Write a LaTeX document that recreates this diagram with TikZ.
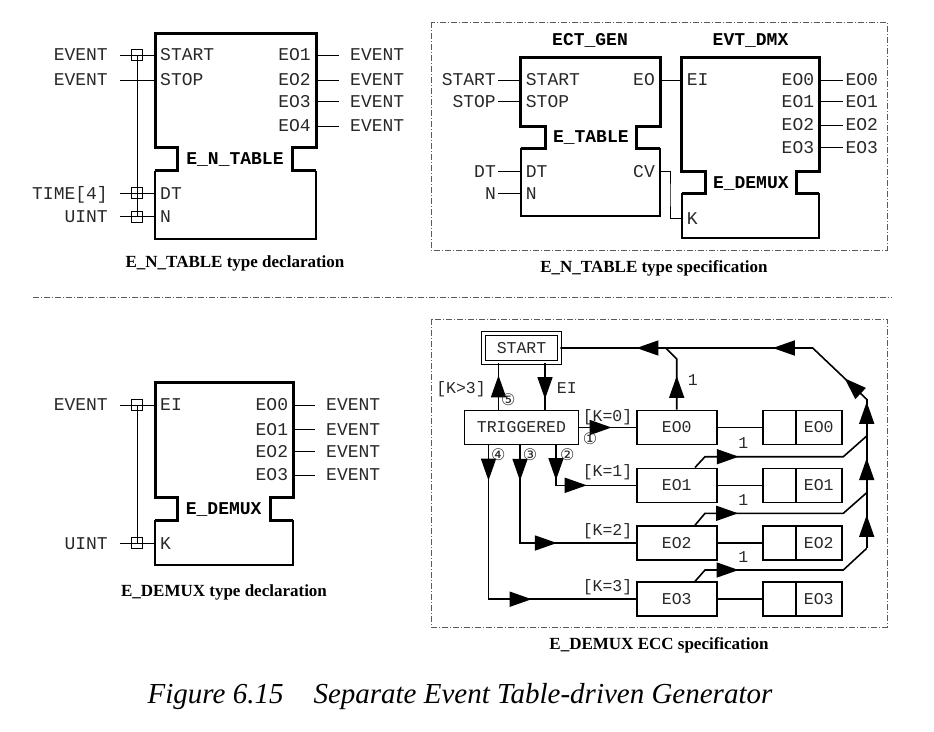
\documentclass[tikz,border=0pt]{standalone}
\usepackage{fontspec}
\setmainfont{Liberation Serif}
\newfontfamily\monofont{Liberation Mono}
\newfontfamily\circfont{DejaVu Sans}
\usetikzlibrary{arrows.meta, positioning, decorations.markings, calc}

\definecolor{InkGray}{RGB}{40, 40, 40}
\definecolor{FrameGray}{RGB}{90, 90, 90}

% function block outline: xl, xr, ytop, notch top, notch bottom, ybot, notch xl, notch xr
\newcommand{\fblock}[8]{%
  \draw[line width=2pt, line join=miter] (#1,#5) -- (#1,#6) -- (#2,#6) -- (#2,#5);
  \draw[line width=3pt, line join=miter] (#1,#5) -- (#7,#5) -- (#7,#4) -- (#1,#4) -- (#1,#3)
    -- (#2,#3) -- (#2,#4) -- (#8,#4) -- (#8,#5) -- (#2,#5);
}

\tikzset{
  io/.style={font=\monofont\fontsize{18}{20}\selectfont, text=InkGray, inner ysep=0pt, text height=11.5pt, text depth=0pt},
  pinL/.style={io, anchor=west, inner xsep=5pt},
  pinR/.style={io, anchor=east, inner xsep=5pt},
  typL/.style={io, anchor=east, inner xsep=12pt},
  typR/.style={io, anchor=west, inner xsep=11pt},
  varL/.style={io, anchor=east, inner xsep=2pt},
  varR/.style={io, anchor=west, inner xsep=2pt},
  fbname/.style={io, font=\monofont\bfseries\fontsize{18}{20}\selectfont, text=black},
  assoc/.style={draw, line width=0.8pt, minimum size=11pt, inner sep=0pt},
  pin/.style={line width=0.8pt},
  capt/.style={font=\bfseries\fontsize{17}{19}\selectfont, inner sep=0pt},
  frame/.style={FrameGray, line width=0.8pt, dash pattern=on 6pt off 2pt on 1pt off 2pt},
  ec/.style={font=\monofont\fontsize{16.5}{18}\selectfont, text=InkGray, inner ysep=0pt, text height=10.5pt, text depth=0pt},
  state/.style={ec, draw=black, line width=1.6pt, minimum height=34pt, inner xsep=0pt},
  initst/.style={ec, draw=black, double, double distance=2.5pt, line width=1.6pt,
    minimum width=76pt, minimum height=29pt, inner xsep=0pt},
  flow/.style={line width=1.6pt},
  onarr/.style={postaction={decorate, decoration={markings,
    mark=at position #1 with {\arrow{Triangle[length=22pt,width=15pt]}}}}},
  circ/.style={font=\circfont\fontsize{16}{17}\selectfont, text=InkGray, inner sep=0pt},
}

\begin{document}
\begin{tikzpicture}[x=1pt, y=-1pt]
  \useasboundingbox (0,0) rectangle (934,731);

  % ---- E_N_TABLE type declaration
  \fblock{155}{316}{33.3}{147.7}{170.7}{239.3}{177}{292.7}
  \node[pinL] (ntStart) at (155,55) {START};
  \node[pinL] (ntStop) at (155,80) {STOP};
  \node[pinL] (ntDT) at (155,193.3) {DT};
  \node[pinL] (ntN) at (155,216.7) {N};
  \node[pinR] (ntEO1) at (316,55) {EO1};
  \node[pinR] (ntEO2) at (316,80) {EO2};
  \node[pinR] (ntEO3) at (316,101.7) {EO3};
  \node[pinR] (ntEO4) at (316,126) {EO4};
  \node[fbname] (ntName) at (235,159) {E\_N\_TABLE};
  \node[typL] (ntEvA) at (120,55) {EVENT};
  \node[typL] (ntEvB) at (120,80) {EVENT};
  \node[typL] (ntTime) at (120,193.3) {TIME[4]};
  \node[typL] (ntUint) at (120,216.7) {UINT};
  \node[typR] (ntOut1) at (339,55) {EVENT};
  \node[typR] (ntOut2) at (339,80) {EVENT};
  \node[typR] (ntOut3) at (339,101.7) {EVENT};
  \node[typR] (ntOut4) at (339,126) {EVENT};
  \draw[pin] (ntEvA.east) -- (ntStart.west);
  \draw[pin] (ntEvB.east) -- (ntStop.west);
  \draw[pin] (ntTime.east) -- (ntDT.west);
  \draw[pin] (ntUint.east) -- (ntN.west);
  \draw[pin] (ntEO1.east) -- (ntOut1.west);
  \draw[pin] (ntEO2.east) -- (ntOut2.west);
  \draw[pin] (ntEO3.east) -- (ntOut3.west);
  \draw[pin] (ntEO4.east) -- (ntOut4.west);
  \node[assoc] (ntSqA) at (137,55) {};
  \node[assoc] (ntSqT) at (137,193.3) {};
  \node[assoc] (ntSqN) at (137,216.7) {};
  \draw[pin] (ntSqA.center) -- (ntSqN.center);
  \node[capt] (ntCap) at (235,263) {E\_N\_TABLE type declaration};

  % ---- E_N_TABLE type specification
  \draw[frame] (431,22) rectangle (887,250);
  \fblock{520.7}{660}{57.3}{126}{148.3}{216}{545}{636.7}
  \node[fbname] (spGen) at (590,40) {ECT\_GEN};
  \node[pinL] (spStart) at (520.7,80) {START};
  \node[pinL] (spStop) at (520.7,101.7) {STOP};
  \node[pinL] (spDT) at (520.7,171.7) {DT};
  \node[pinL] (spN) at (520.7,193.3) {N};
  \node[pinR] (spEO) at (660,80) {EO};
  \node[pinR] (spCV) at (660,171.7) {CV};
  \node[fbname] (spTable) at (590.8,137.2) {E\_TABLE};
  \node[varL] (spInStart) at (498,80) {START};
  \node[varL] (spInStop) at (498,101.7) {STOP};
  \node[varL] (spInDT) at (498,171.7) {DT};
  \node[varL] (spInN) at (498,193.3) {N};
  \draw[pin] (spInStart.east) -- (spStart.west);
  \draw[pin] (spInStop.east) -- (spStop.west);
  \draw[pin] (spInDT.east) -- (spDT.west);
  \draw[pin] (spInN.east) -- (spN.west);

  \fblock{681.7}{819.3}{57.3}{171.7}{193.3}{238.3}{705}{796.7}
  \node[fbname] (spDmx) at (750.5,40) {EVT\_DMX};
  \node[pinL] (spEI) at (681.7,80) {EI};
  \node[pinL] (spK) at (681.7,218.3) {K};
  \node[pinR] (spEO0) at (819.3,80) {EO0};
  \node[pinR] (spEO1) at (819.3,101.7) {EO1};
  \node[pinR] (spEO2) at (819.3,125) {EO2};
  \node[pinR] (spEO3) at (819.3,147.7) {EO3};
  \node[fbname] (spDemux) at (750.8,182.5) {E\_DEMUX};
  \node[varR] (spOut0) at (843.3,80) {EO0};
  \node[varR] (spOut1) at (843.3,101.7) {EO1};
  \node[varR] (spOut2) at (843.3,125) {EO2};
  \node[varR] (spOut3) at (843.3,147.7) {EO3};
  \draw[pin] (spEO0.east) -- (spOut0.west);
  \draw[pin] (spEO1.east) -- (spOut1.west);
  \draw[pin] (spEO2.east) -- (spOut2.west);
  \draw[pin] (spEO3.east) -- (spOut3.west);
  \draw[pin] (spEO.east) -- (spEI.west);
  \coordinate (spBend) at (670,195);
  \draw[pin] (spCV.east) -| (spBend) |- (spK.west);
  \node[capt] (spCap) at (654,268) {E\_N\_TABLE type specification};

  \draw[frame] (33,297) -- (892,297);

  % ---- E_DEMUX type declaration
  \fblock{155}{293.3}{382.7}{497.7}{520}{565}{177.3}{270}
  \node[pinL] (dmEI) at (155,405) {EI};
  \node[pinL] (dmK) at (155,543.3) {K};
  \node[pinR] (dmEO0) at (293.3,405) {EO0};
  \node[pinR] (dmEO1) at (293.3,429.3) {EO1};
  \node[pinR] (dmEO2) at (293.3,451.7) {EO2};
  \node[pinR] (dmEO3) at (293.3,475) {EO3};
  \node[fbname] (dmName) at (223.7,509) {E\_DEMUX};
  \node[typL] (dmEv) at (120,405) {EVENT};
  \node[typL] (dmUint) at (120,543.3) {UINT};
  \node[typR] (dmOut0) at (315,405) {EVENT};
  \node[typR] (dmOut1) at (315,429.3) {EVENT};
  \node[typR] (dmOut2) at (315,451.7) {EVENT};
  \node[typR] (dmOut3) at (315,475) {EVENT};
  \draw[pin] (dmEv.east) -- (dmEI.west);
  \draw[pin] (dmUint.east) -- (dmK.west);
  \draw[pin] (dmEO0.east) -- (dmOut0.west);
  \draw[pin] (dmEO1.east) -- (dmOut1.west);
  \draw[pin] (dmEO2.east) -- (dmOut2.west);
  \draw[pin] (dmEO3.east) -- (dmOut3.west);
  \node[assoc] (dmSqA) at (137,405) {};
  \node[assoc] (dmSqK) at (137,543.3) {};
  \draw[pin] (dmSqA.center) -- (dmSqK.center);
  \node[capt] (dmCap) at (224,592.7) {E\_DEMUX type declaration};

  % ---- E_DEMUX ECC specification
  \draw[frame] (431,319) rectangle (887,627);
  \node[initst] (ecStart) at (521.5,348) {START};
  \node[state, minimum width=114pt] (ecTrig) at (521.5,427.5) {TRIGGERED};
  \foreach \k/\y in {0/427.5, 1/485.3, 2/543, 3/599.2} {
    \node[state, minimum width=80pt] (ecEO\k) at (676.7,\y) {EO\k};
    \node[state, minimum width=33pt] (ecQ\k) at (779.2,\y) {};
    \node[state, minimum width=46pt] (ecA\k) at (818.7,\y) {EO\k};
    \draw[flow] (ecEO\k.east) -- (ecQ\k.west);
  }
  \draw[flow, onarr=0.74] ([xshift=-23pt]ecTrig.north) -- ([xshift=-23pt]ecStart.south);
  \draw[flow, onarr=0.77] ([xshift=23.5pt]ecStart.south) -- ([xshift=23.5pt]ecTrig.north);
  \draw[flow, onarr=0.57] (ecTrig.east) -- (ecEO0.west);
  \draw[flow, onarr=0.29, onarr=0.59] ([xshift=34.5pt]ecTrig.south) |- (ecEO1.west);
  \draw[flow, onarr=0.166, onarr=0.63] ([xshift=-1.5pt]ecTrig.south) |- (ecEO2.west);
  \draw[flow, onarr=0.117, onarr=0.654] ([xshift=-33pt]ecTrig.south) |- (ecEO3.west);

  \coordinate (ecJt) at (866.7,399.3);
  \coordinate (ecTr) at (812.7,348);
  \coordinate (ecK0) at (676.7,359);
  \coordinate (ecM0) at (665.7,348);
  \coordinate (ecJ1) at (866.7,436);
  \coordinate (ecJ2) at (866.7,492.7);
  \coordinate (ecJ3) at (866.7,548.3);
  \draw[flow, onarr=0.093, onarr=0.35, onarr=0.767] (ecJt) -- (ecTr) -- (ecStart.east);
  \draw[flow, onarr=0.51] (ecEO0.north) -- (ecK0) -- (ecM0);
  \draw[flow, onarr=0.6] (ecJ3) -- (ecJ2);
  \draw[flow, onarr=0.61] (ecJ2) -- (ecJ1);
  \draw[flow, onarr=0.93] (ecJ1) -- (ecJt);
  \foreach \k/\y in {1/456.7, 2/513.3, 3/570} {
    \coordinate (ecB\k) at (705,\y);
    \coordinate (ecC\k) at (843.3,\y);
    \draw[flow, onarr=0.263] ([xshift=18.3pt]ecEO\k.north) -- (ecB\k) -- (ecC\k) -- (ecJ\k);
  }
  \node[ec] (ecOne0) at (692.7,380) {1};
  \node[ec] (ecOne1) at (743.3,443.3) {1};
  \node[ec] (ecOne2) at (743.3,500) {1};
  \node[ec] (ecOne3) at (743.3,557) {1};
  \node[ec, anchor=east, inner xsep=0pt] (ecGk3) at (486,388.3) {[K>3]};
  \node[ec, anchor=west, inner xsep=0pt] (ecGei) at (556.7,388.3) {EI};
  \node[ec] (ecGk0) at (607.5,416.7) {[K=0]};
  \node[ec] (ecGk1) at (607.5,471.7) {[K=1]};
  \node[ec] (ecGk2) at (607.5,530) {[K=2]};
  \node[ec] (ecGk3b) at (607.5,586) {[K=3]};
  \node[circ] (ecN5) at (508.3,400) {⑤};
  \node[circ] (ecN1) at (590,438.3) {①};
  \node[circ] (ecN4) at (498.3,455) {④};
  \node[circ] (ecN3) at (530,455) {③};
  \node[circ] (ecN2) at (567.3,455) {②};
  \node[capt] (ecCap) at (659,645) {E\_DEMUX ECC specification};

  % ---- figure caption
  \node[font=\itshape\fontsize{29}{32}\selectfont, inner sep=0pt] (figCap) at (460,697)
    {Figure 6.15\hspace{30pt}Separate Event Table-driven Generator};
\end{tikzpicture}
\end{document}
